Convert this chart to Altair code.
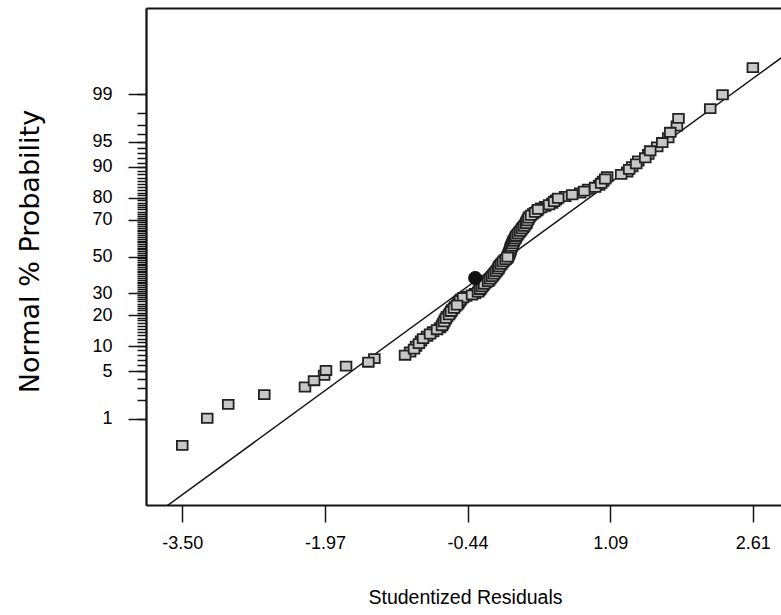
import altair as alt
import pandas as pd
from statistics import NormalDist

# ---------------- data ----------------
# studentized residuals, sorted (146 runs)
residuals = [
    -3.4985, -3.231, -3.006, -2.620, -2.184, -2.087, -1.979, -1.959, -1.744, -1.505,
    -1.441, -1.112, -1.058, -1.016, -0.994, -0.963, -0.941, -0.919, -0.876, -0.844,
    -0.812, -0.769, -0.737, -0.716, -0.705, -0.694, -0.684, -0.673, -0.662, -0.641,
    -0.630, -0.619, -0.608, -0.587, -0.576, -0.555, -0.544, -0.533, -0.523, -0.512,
    -0.490, -0.458, -0.394, -0.362, -0.330, -0.319, -0.308, -0.298, -0.287, -0.276,
    -0.265, -0.244, -0.222, -0.212, -0.201, -0.190, -0.179, -0.169, -0.158, -0.147,
    -0.137, -0.126, -0.115, -0.110, -0.104, -0.094, -0.083, -0.072, -0.062, -0.051,
    -0.035, -0.019, -0.013, -0.008, -0.003, 0.003, 0.008, 0.013, 0.016, 0.019,
    0.024, 0.029, 0.035, 0.040, 0.045, 0.051, 0.056, 0.067, 0.072, 0.078,
    0.088, 0.099, 0.110, 0.121, 0.131, 0.142, 0.153, 0.163, 0.174, 0.185,
    0.190, 0.196, 0.206, 0.212, 0.222, 0.238, 0.260, 0.281, 0.303, 0.313,
    0.346, 0.389, 0.431, 0.464, 0.485, 0.506, 0.528, 0.603, 0.678, 0.764,
    0.807, 0.850, 0.924, 0.967, 0.989, 1.010, 1.032, 1.053, 1.203, 1.268,
    1.289, 1.321, 1.364, 1.386, 1.461, 1.493, 1.514, 1.589, 1.643, 1.707,
    1.729, 1.800, 1.817, 2.157, 2.289, 2.6135,
]

# highlighted run (black symbol)
highlight_resid = [-0.36]
highlight_pct = [37.9]

# fitted normal line
fit_mean = 0.0
fit_sd = 1.0256
line_resid = [-3.95, 3.0]

# axes
y_major_pct = [1, 5, 10, 20, 30, 50, 70, 80, 90, 95, 99]
y_minor_pct = list(range(1, 100))
x_tick_values = [-3.4985, -1.9705, -0.4425, 1.0855, 2.6135]

X_DOMAIN = [-3.887, 2.915]
Y_DOMAIN = [-3.558, 3.558]

# ---------------- tables ----------------
nd = NormalDist()
n = len(residuals)
pts = pd.DataFrame({
    "resid": residuals,
    "z": [nd.inv_cdf((i + 0.5) / n) for i in range(n)],
})
# draw in a scrambled (run-like) order so overlapping symbols stack irregularly
draw_order = [(i * 37) % n for i in range(n)]
pts = pts.iloc[draw_order].reset_index(drop=True)

hl = pd.DataFrame({
    "resid": highlight_resid,
    "z": [nd.inv_cdf(p / 100) for p in highlight_pct],
})
line_df = pd.DataFrame({
    "resid": line_resid,
    "z": [(r - fit_mean) / fit_sd for r in line_resid],
})
major_z = [nd.inv_cdf(p / 100) for p in y_major_pct]
minor_z = [nd.inv_cdf(p / 100) for p in y_minor_pct]

FONT = "Liberation Sans"
INK = "#141414"


def xs():
    return alt.Scale(domain=X_DOMAIN, nice=False, zero=False)


def ys():
    return alt.Scale(domain=Y_DOMAIN, nice=False, zero=False)


line_layer = alt.Chart(line_df).mark_line(color=INK, strokeWidth=1.5, clip=True).encode(
    x=alt.X("resid:Q", scale=xs(), axis=alt.Axis(
        orient="top", ticks=False, labels=False, title=None, grid=False,
        domainColor=INK, domainWidth=1.8)),
    y=alt.Y("z:Q", scale=ys(), axis=alt.Axis(
        orient="left", values=minor_z, labels=False, title=None, grid=False,
        tickSize=9, tickColor=INK, tickWidth=1.5,
        domainColor=INK, domainWidth=1.8)),
)

points_layer = alt.Chart(pts).mark_point(
    shape="M-1,-0.85H1V0.85H-1Z", size=115, filled=True,
    fill="#c8c8c8", stroke="#222222", strokeWidth=1.8, opacity=1,
).encode(
    x=alt.X("resid:Q", scale=xs(), axis=alt.Axis(
        orient="bottom", values=x_tick_values,
        labelExpr="replace(format(datum.value, '.2f'), '\u2212', '-')",
        title="Studentized Residuals", grid=False,
        tickSize=17, tickColor=INK, tickWidth=1.5,
        domainColor=INK, domainWidth=1.8,
        labelFont=FONT, labelFontSize=18, labelColor="#000", labelPadding=12,
        labelBaseline="top", labelFlush=False, labelOverlap=False,
        titleFont=FONT, titleFontSize=19.5, titleFontWeight="normal", titleColor="#000",
        titleX=319, titleY=92, titleAnchor="middle", titleAlign="center",
        titleBaseline="middle")),
    y=alt.Y("z:Q", scale=ys(), axis=alt.Axis(
        orient="left", values=major_z,
        labelExpr="format(cumulativeNormal(datum.value) * 100, '.0f')",
        title="Normal % Probability", grid=False,
        tickSize=18, tickColor=INK, tickWidth=1.5,
        domainColor=INK, domainWidth=1.8,
        labelFont=FONT, labelFontSize=18, labelColor="#000", labelPadding=16,
        labelBaseline="middle", labelFlush=False, labelOverlap=False,
        titleFont="DejaVu Sans", titleFontSize=27, titleFontWeight="normal",
        titleColor="#000",
        titleX=-116, titleY=243, titleAngle=-90, titleAlign="center",
        titleBaseline="middle")),
)

hl_layer = alt.Chart(hl).mark_point(
    shape="circle", size=175, filled=True, fill="#111111",
    stroke="#111111", strokeWidth=1, opacity=1,
).encode(
    x=alt.X("resid:Q", scale=xs(), axis=None),
    y=alt.Y("z:Q", scale=ys(), axis=None),
)

chart = alt.layer(line_layer, points_layer, hl_layer).resolve_scale(
    x="independent", y="independent"
).properties(
    width=635, height=497,
    autosize=alt.AutoSizeParams(type="none"),
    padding={"left": 146, "top": 8, "right": 0, "bottom": 110},
    background="white",
).configure_view(strokeWidth=0)

chart.save("out.html", embed_options={"renderer": "svg", "actions": False})
